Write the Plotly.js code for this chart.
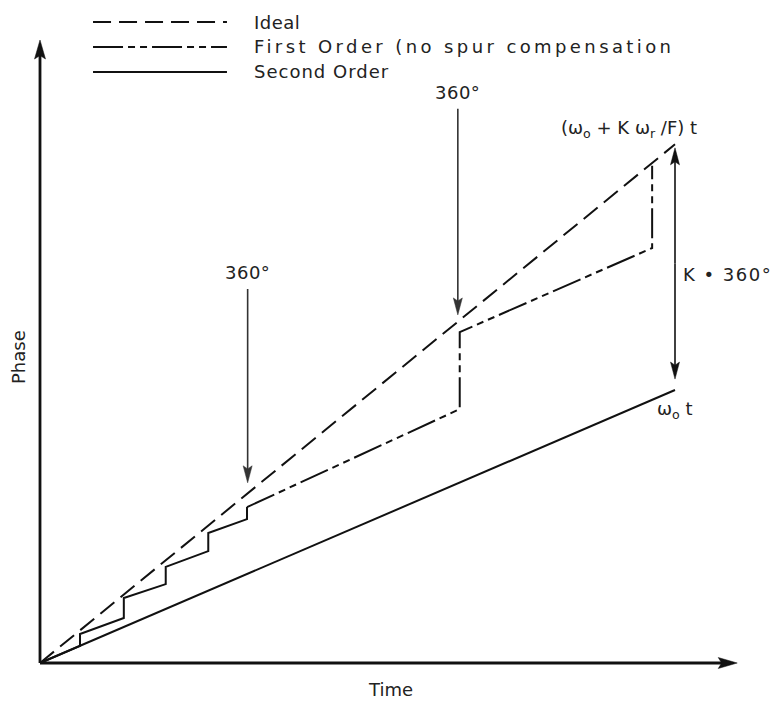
<!DOCTYPE html>
<html>
<head>
<meta charset="utf-8">
<script src="https://cdn.plot.ly/plotly-3.0.1.min.js"></script>
<style>html,body{margin:0;padding:0;background:#fff}</style>
</head>
<body>
<div id="chart" style="width:772px;height:701px"></div>
<script>
// Time and phase in arbitrary units (the second-order phase reaches 100 at t = 100)
const idealT = [0, 100];
const idealPhase = [0, 190];
const secondT = [0, 100];
const secondPhase = [0, 100];

// First order: small corrections while the error stays below one cycle
const stairT = [0, 6.3, 6.3, 13.2, 13.2, 19.8, 19.8, 26.5, 26.5, 32.6, 32.6];
const stairPhase = [0, 6.3, 10.6, 16.5, 23.8, 28.9, 35.2, 41.0, 47.6, 52.7, 57.1];
// ...then a long drift with full-cycle jumps
const driftT = [32.6, 66.1, 66.1, 96.4, 96.4];
const driftPhase = [57.1, 93.0, 121.2, 152.0, 182.1];

// 360° markers: time of the jump, arrow tip and tail phase
const cycleT = [32.7, 65.8];
const cycleTip = [66, 127.5];
const cycleTail = [137, 203];
const cycleLabel = '360°';

const legendLabels = ['Ideal', 'First Order (no spur compensation', 'Second Order'];
const legendSpacing = [0.5, 3.4, 1];
const idealLabel = '(ω<sub>o</sub> + K ω<sub>r</sub> /F) t';
const secondLabel = 'ω<sub>o</sub> t';
const gapLabel = 'K • 360°';
const xLabel = 'Time';
const yLabel = 'Phase';

// Geometry: the plot area fills the figure, origin of the axes at (40px, 663px)
const W = 772, H = 701;
const pxT = 6.35, pxP = 2.73;
const X_RANGE = [-40 / pxT, (W - 40) / pxT];
const Y_RANGE = [-(H - 663) / pxP, 663 / pxP];
const xAxisEnd = 109.8, yAxisEnd = 228.2;

const INK = '#111';
const FONT = {family: 'DejaVu Sans, sans-serif', size: 18, color: '#222'};
const IDEAL_DASH = '18px,8px';
const FIRST_DASH = '30px,5px,7px,5px,7px,5px';

function spaced(text, px) {
  return '<span style="letter-spacing:' + px + 'px">' + text + '</span>';
}

// Filled arrowhead, tip at (t, p); (ux, uy) is the screen direction it points to
function headPath(t, p, ux, uy, len, half) {
  const bx = -ux * len, by = -uy * len;
  const nx = -uy, ny = ux;
  const pts = [[0, 0], [bx + nx * half, by + ny * half], [bx * 0.82, by * 0.82], [bx - nx * half, by - ny * half]];
  return 'M' + pts.map(([dx, dy]) => (t + dx / pxT).toFixed(3) + ',' + (p - dy / pxP).toFixed(3)).join('L') + 'Z';
}
function arrow(t0, p0, t1, p1, width, len, half, color) {
  const dx = (t1 - t0) * pxT, dy = -(p1 - p0) * pxP;
  const n = Math.hypot(dx, dy), ux = dx / n, uy = dy / n;
  const back = len * 0.7;
  return [
    {type: 'line', xref: 'x', yref: 'y', x0: t0, y0: p0,
     x1: t1 - ux * back / pxT, y1: p1 + uy * back / pxP,
     line: {color: color, width: width}},
    {type: 'path', xref: 'x', yref: 'y', path: headPath(t1, p1, ux, uy, len, half),
     fillcolor: color, line: {color: color, width: 0.5}}
  ];
}

const traces = [
  {x: idealT, y: idealPhase, mode: 'lines', line: {color: INK, width: 2, dash: IDEAL_DASH}},
  {x: stairT, y: stairPhase, mode: 'lines', line: {color: INK, width: 2}},
  {x: driftT, y: driftPhase, mode: 'lines', line: {color: INK, width: 2, dash: FIRST_DASH}},
  {x: secondT, y: secondPhase, mode: 'lines', line: {color: INK, width: 2}}
];

const shapes = [];
// axes with arrowheads
shapes.push(...arrow(0, 0, xAxisEnd, 0, 2.8, 19, 5.5, INK));
shapes.push(...arrow(0, 0, 0, yAxisEnd, 2.8, 19, 5.5, INK));
// 360° jump markers
cycleT.forEach((t, i) => shapes.push(...arrow(t, cycleTail[i], t, cycleTip[i], 1.6, 17, 4.5, '#333')));
// K·360° span between the ideal and second-order end points
const tEnd = idealT[1];
const gapTop = idealPhase[1] - 1.3, gapBot = secondPhase[1] + 4;
const gapMid = (gapTop + gapBot) / 2;
shapes.push(...arrow(tEnd, gapMid, tEnd, gapTop, 1.6, 17, 4.5, INK));
shapes.push(...arrow(tEnd, gapMid, tEnd, gapBot, 1.6, 17, 4.5, INK));

// legend drawn as long line samples
const legendY = [0.9686, 0.9330, 0.8973];
const legendDash = [IDEAL_DASH, FIRST_DASH, 'solid'];
legendLabels.forEach((lab, i) => {
  shapes.push({type: 'line', xref: 'paper', yref: 'paper', x0: 0.1205, x1: 0.2940,
    y0: legendY[i], y1: legendY[i], line: {color: INK, width: 2, dash: legendDash[i]}});
});

const annotations = [];
legendLabels.forEach((lab, i) => annotations.push({
  xref: 'paper', yref: 'paper', x: 0.3264, y: legendY[i], text: spaced(lab, legendSpacing[i]),
  showarrow: false, xanchor: 'left', yanchor: 'middle', font: FONT}));
cycleT.forEach((t, i) => annotations.push({
  x: t, y: cycleTail[i], text: spaced(cycleLabel, 0.5), showarrow: false, xanchor: 'center',
  yanchor: 'bottom', yshift: 4, font: FONT}));
annotations.push({x: tEnd, y: idealPhase[1], text: idealLabel, showarrow: false,
  xanchor: 'center', yanchor: 'middle', xshift: -46, yshift: 15, font: FONT});
annotations.push({x: tEnd, y: secondPhase[1], text: secondLabel, showarrow: false,
  xanchor: 'center', yanchor: 'middle', yshift: -20, font: FONT});
annotations.push({x: tEnd, y: gapMid - 4, text: spaced(gapLabel, 1.5), showarrow: false,
  xanchor: 'left', yanchor: 'middle', xshift: 6, font: FONT});
annotations.push({xref: 'paper', yref: 'paper', x: 0.5052, y: 0.0157, text: xLabel, showarrow: false,
  xanchor: 'center', yanchor: 'middle', font: FONT});
annotations.push({xref: 'paper', yref: 'paper', x: 0.0233, y: 0.4907, text: yLabel, showarrow: false,
  textangle: -90, xanchor: 'center', yanchor: 'middle', font: FONT});

const layout = {
  width: W, height: H, margin: {l: 0, r: 0, t: 0, b: 0}, showlegend: false,
  paper_bgcolor: '#fff', plot_bgcolor: '#fff',
  xaxis: {range: X_RANGE, visible: false, fixedrange: true},
  yaxis: {range: Y_RANGE, visible: false, fixedrange: true},
  shapes: shapes, annotations: annotations
};

Plotly.newPlot('chart', traces, layout, {displayModeBar: false, staticPlot: true});
</script>
</body>
</html>
